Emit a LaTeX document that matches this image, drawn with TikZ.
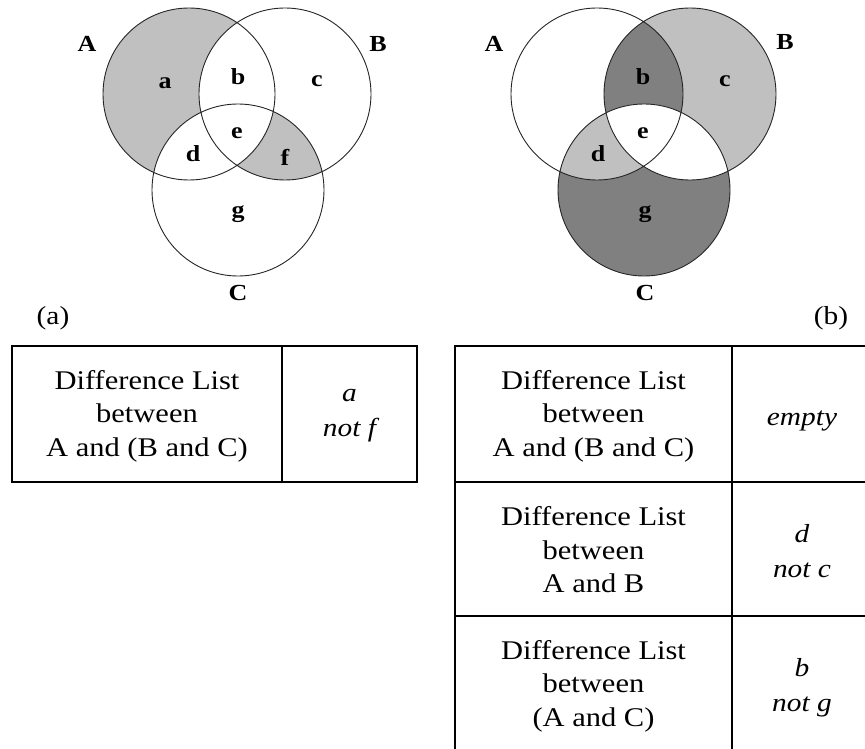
\documentclass[tikz,border=0pt]{standalone}
\usepackage{fontspec}
\setmainfont{Liberation Serif}[FakeStretch=1.13]
\begin{document}
\begin{tikzpicture}[x=1pt,y=-1pt,
  ring/.style={draw=black!85,line width=0.9pt},
  setlbl/.style={font=\fontsize{23}{25}\selectfont\bfseries,inner sep=0pt},
  caption/.style={font=\fontsize{26}{30}\selectfont,inner sep=0pt},
  cell/.style={draw=black,line width=2pt,inner sep=0pt},
  celltext/.style={align=center,inner sep=0pt,font=\fontsize{27}{33.5}\selectfont},
  entry/.style={align=center,inner sep=0pt,font=\fontsize{26}{35}\selectfont\itshape}]
\useasboundingbox (0,0) rectangle (865,749);
\definecolor{lightgr}{RGB}{192,192,192}
\definecolor{darkgr}{RGB}{128,128,128}
\def\rr{86pt}

% ---------- diagram (a) ----------
\coordinate (ca) at (189,94);
\coordinate (cb) at (285,94);
\coordinate (cc) at (238,190);
\fill[lightgr] (ca) circle[radius=\rr];
\fill[white] (cb) circle[radius=\rr] (cc) circle[radius=\rr];
\begin{scope}
  \clip (cb) circle[radius=\rr];
  \clip (cc) circle[radius=\rr];
  \fill[lightgr] (cc) circle[radius=\rr];
  \fill[white] (ca) circle[radius=\rr];
\end{scope}
\draw[ring] (ca) circle[radius=\rr] (cb) circle[radius=\rr] (cc) circle[radius=\rr];
\node[setlbl] (la) at (87,44) {A};
\node[setlbl] (lb) at (378,44) {B};
\node[setlbl] (lc) at (238,293) {C};
\node[setlbl] (ra) at (165,83) {a};
\node[setlbl] (rb) at (238,77) {b};
\node[setlbl] (rc) at (317,81) {c};
\node[setlbl] (re) at (237,133) {e};
\node[setlbl] (rd) at (193,154) {d};
\node[setlbl] (rf) at (285,157) {f};
\node[setlbl] (rg) at (238,214) {g};
\node[caption] (capa) at (53,318) {(a)};

% ---------- diagram (b) ----------
\coordinate (da) at (597,94);
\coordinate (db) at (690,94);
\coordinate (dc) at (644,190);
\fill[lightgr] (db) circle[radius=\rr];
\fill[darkgr] (dc) circle[radius=\rr];
\begin{scope}
  \clip (da) circle[radius=\rr];
  \fill[darkgr] (db) circle[radius=\rr];
  \fill[lightgr] (dc) circle[radius=\rr];
\end{scope}
\begin{scope}
  \clip (db) circle[radius=\rr];
  \fill[white] (dc) circle[radius=\rr];
\end{scope}
\draw[ring] (da) circle[radius=\rr] (db) circle[radius=\rr] (dc) circle[radius=\rr];
\node[setlbl] (ma) at (494,44) {A};
\node[setlbl] (mb) at (785,42) {B};
\node[setlbl] (mc) at (645,293) {C};
\node[setlbl] (sb) at (643,77) {b};
\node[setlbl] (sc) at (725,81) {c};
\node[setlbl] (se) at (643,133) {e};
\node[setlbl] (sd) at (598,154) {d};
\node[setlbl] (sg) at (645,214) {g};
\node[caption] (capb) at (831,318) {(b)};

% ---------- table under (a) ----------
\node[cell,minimum width=270pt,minimum height=136pt] (t1l) at (147,414) {};
\node[cell,minimum width=135pt,minimum height=136pt] (t1r) at (349.5,414) {};
\node[celltext] (x1l) at (147,416) {Difference List\\between\\A and (B and C)};
\node[entry] (x1r) at (349.5,416) {a\\not f};

% ---------- table under (b) ----------
\node[cell,minimum width=277pt,minimum height=136pt] (t2l1) at (593.5,414) {};
\node[cell,minimum width=180pt,minimum height=136pt] (t2r1) at (822,414) {};
\node[cell,minimum width=277pt,minimum height=134pt] (t2l2) at (593.5,549) {};
\node[cell,minimum width=180pt,minimum height=134pt] (t2r2) at (822,549) {};
\node[cell,minimum width=277pt,minimum height=140pt] (t2l3) at (593.5,686) {};
\node[cell,minimum width=180pt,minimum height=140pt] (t2r3) at (822,686) {};
\node[celltext] (x2l1) at (593.5,416) {Difference List\\between\\A and (B and C)};
\node[celltext] (x2l2) at (593.5,550) {Difference List\\between\\A and B};
\node[celltext] (x2l3) at (593.5,686) {Difference List\\between\\(A and C)};
\node[entry] (x2r1) at (802,421) {empty};
\node[entry] (x2r2) at (802,551) {d\\not c};
\node[entry] (x2r3) at (802,688) {b\\not g};
\end{tikzpicture}
\end{document}
